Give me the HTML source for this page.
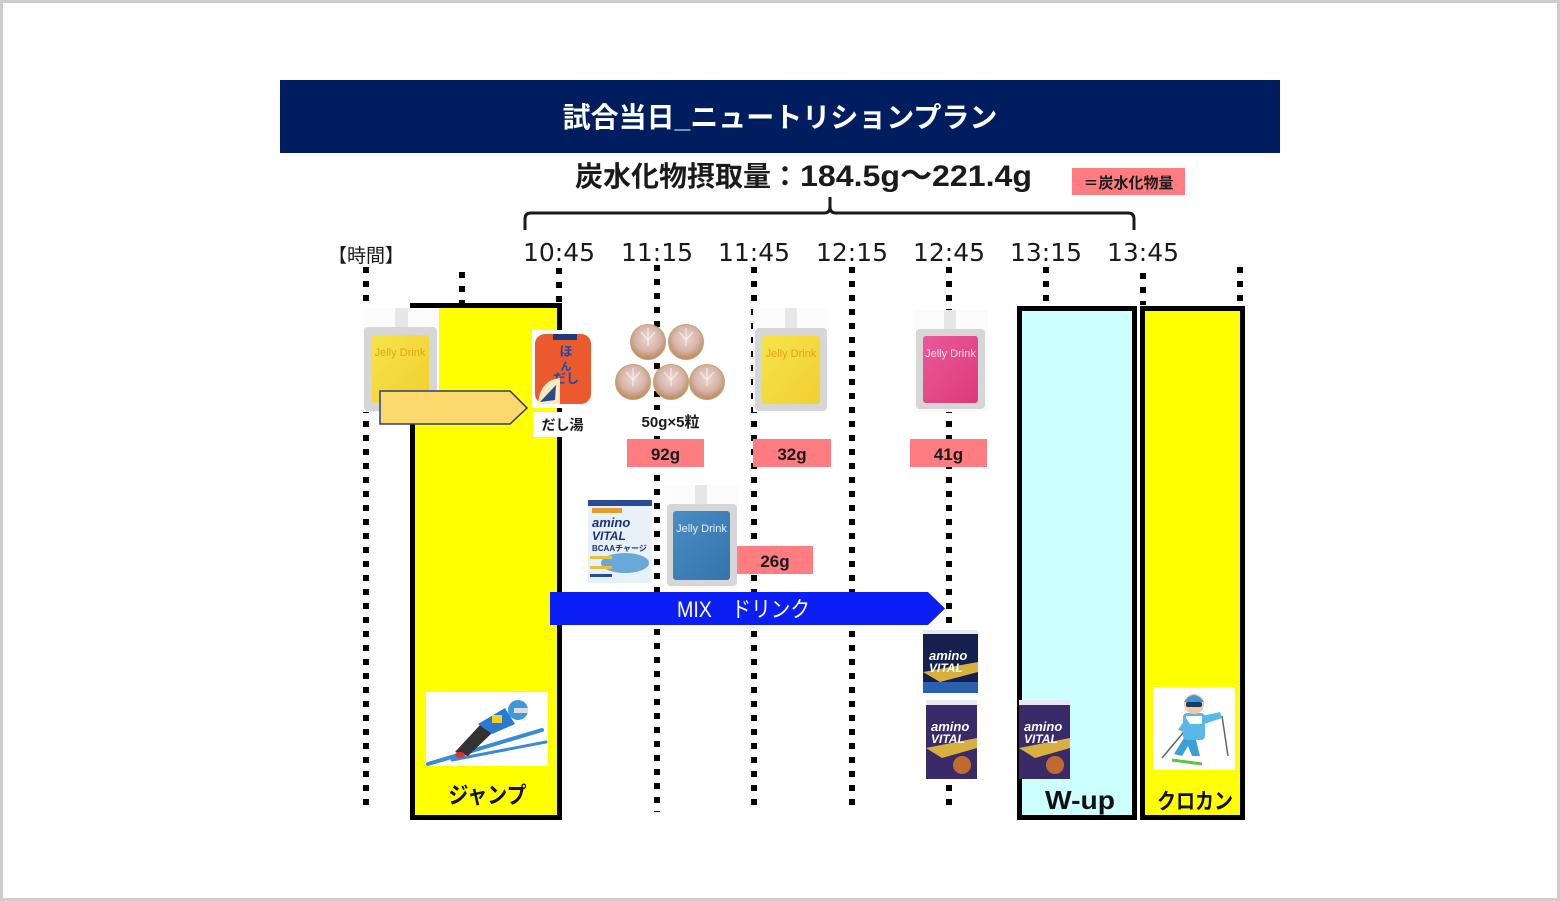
<!DOCTYPE html>
<html><head><meta charset="utf-8">
<style>
html,body{margin:0;padding:0;background:#fff;}
body{width:1560px;height:901px;overflow:hidden;}
svg{display:block;}
text{font-family:"Liberation Sans","Noto Sans CJK JP",sans-serif;}
text.tm{font-family:"DejaVu Sans",sans-serif;}
</style></head>
<body>
<svg width="1560" height="901" viewBox="0 0 1560 901" xmlns="http://www.w3.org/2000/svg">
<defs>
  <radialGradient id="dump" cx="50%" cy="40%" r="60%">
    <stop offset="0" stop-color="#ecd8d2"/>
    <stop offset="0.6" stop-color="#d6b4a8"/>
    <stop offset="1" stop-color="#bb8658"/>
  </radialGradient>
  <linearGradient id="yel" x1="0" y1="0" x2="1" y2="1">
    <stop offset="0" stop-color="#f7e34a"/><stop offset="1" stop-color="#f0d030"/>
  </linearGradient>
  <linearGradient id="pnk" x1="0" y1="0" x2="1" y2="1">
    <stop offset="0" stop-color="#ea5a98"/><stop offset="1" stop-color="#dc3a7a"/>
  </linearGradient>
  <linearGradient id="blu" x1="0" y1="0" x2="1" y2="1">
    <stop offset="0" stop-color="#4a8cc4"/><stop offset="1" stop-color="#3474ad"/>
  </linearGradient>
</defs>

<!-- page border -->
<rect x="1.5" y="1.5" width="1557" height="898" fill="#fff" stroke="#cccccc" stroke-width="3"/>

<!-- header -->
<rect x="280" y="80" width="1000" height="73" fill="#001e5f"/>
<text x="780" y="127" text-anchor="middle" font-size="28" font-weight="bold" fill="#fff">試合当日_ニュートリションプラン</text>

<!-- subtitle -->
<text x="575" y="186" font-size="28" font-weight="bold" fill="#1a1a1a">炭水化物摂取量：</text>
<text x="800" y="186" font-size="30" font-weight="bold" fill="#1a1a1a" textLength="232" lengthAdjust="spacingAndGlyphs">184.5g～221.4g</text>

<rect x="1072" y="168" width="113" height="27" fill="#ff7c80"/>
<text x="1128.5" y="188" text-anchor="middle" font-size="15" font-weight="bold" fill="#1a1a1a">＝炭水化物量</text>

<!-- brace -->
<path d="M525,230 L525,219 Q525,213 531,213 L824,213 Q830,213 830,207 L830,197 M830,207 Q830,213 836,213 L1128,213 Q1134,213 1134,219 L1134,230" fill="none" stroke="#1a1a1a" stroke-width="3"/>

<!-- time labels -->
<text x="366" y="262" text-anchor="middle" font-size="19" fill="#1a1a1a">【時間】</text>
<g font-size="25" fill="#1a1a1a" text-anchor="middle">
  <text class="tm" x="559" y="261">10:45</text>
  <text class="tm" x="657" y="261">11:15</text>
  <text class="tm" x="754" y="261">11:45</text>
  <text class="tm" x="852" y="261">12:15</text>
  <text class="tm" x="949" y="261">12:45</text>
  <text class="tm" x="1046" y="261">13:15</text>
  <text class="tm" x="1143" y="261">13:45</text>
</g>

<!-- dotted lines -->
<g stroke="#000" stroke-width="6" stroke-dasharray="6 8">
  <line x1="366" y1="267" x2="366" y2="812"/>
  <line x1="462" y1="272" x2="462" y2="303"/>
  <line x1="559" y1="268" x2="559" y2="303"/>
  <line x1="657" y1="265" x2="657" y2="812"/>
  <line x1="754" y1="267" x2="754" y2="812"/>
  <line x1="852" y1="267" x2="852" y2="812"/>
  <line x1="949" y1="267" x2="949" y2="812"/>
  <line x1="1046" y1="267" x2="1046" y2="301"/>
  <line x1="1143" y1="273" x2="1143" y2="305"/>
  <line x1="1240" y1="267" x2="1240" y2="301"/>
</g>

<!-- activity boxes -->
<rect x="412.5" y="305.5" width="147" height="512" fill="#ffff00" stroke="#000" stroke-width="5"/>
<rect x="1019.5" y="308.5" width="115" height="509" fill="#ccffff" stroke="#000" stroke-width="5"/>
<rect x="1142.5" y="308.5" width="100" height="509" fill="#ffff00" stroke="#000" stroke-width="5"/>

<!-- yellow jelly 1 -->
<rect x="363" y="308" width="76" height="104" fill="#fbfbfb"/>
<rect x="395" y="308" width="13" height="22" rx="2" fill="#e6e6e6"/>
<rect x="364" y="327" width="73" height="84" rx="4" fill="#d6d6d6"/>
<rect x="372" y="335" width="57" height="68" rx="3" fill="url(#yel)"/>
<text x="400" y="356" text-anchor="middle" font-size="11" fill="#e4a21e">Jelly Drink</text>

<!-- orange arrow -->
<polygon points="380,391 510,391 527,408 510,424 380,424" fill="#fdd86c" stroke="#2a3f7a" stroke-width="1.5"/>

<!-- hondashi -->
<rect x="532" y="330" width="62" height="78" fill="#fff"/>
<rect x="535" y="334" width="56" height="70" rx="10" fill="#ea5a2c"/>
<rect x="553" y="334" width="24" height="6" fill="#1e3a7a"/>
<text x="566" y="356" text-anchor="middle" font-size="13" font-weight="bold" fill="#1e4aa8">ほ</text>
<text x="566" y="370" text-anchor="middle" font-size="11" font-weight="bold" fill="#1e4aa8">ん</text>
<text x="566" y="383" text-anchor="middle" font-size="13" font-weight="bold" fill="#1e4aa8">だし</text>
<path d="M538,404 Q540,380 560,378 L560,404 Z" fill="#f5eac0"/>
<path d="M540,402 L556,385 L555,400 Z" fill="#2a4a8a"/>
<rect x="533" y="412" width="59" height="25" fill="#fff"/>
<text x="562.5" y="430" text-anchor="middle" font-size="14" font-weight="bold" fill="#1a1a1a">だし湯</text>

<!-- dumplings -->
<g stroke="#c8a070" stroke-width="1">
  <circle cx="648" cy="342" r="17.5" fill="url(#dump)"/>
  <circle cx="686" cy="342" r="17.5" fill="url(#dump)"/>
  <circle cx="633" cy="382" r="17.5" fill="url(#dump)"/>
  <circle cx="671" cy="382" r="17.5" fill="url(#dump)"/>
  <circle cx="707" cy="382" r="17.5" fill="url(#dump)"/>
</g>
<g stroke="#f4ecea" stroke-width="1.2" fill="none">
  <path d="M648,328 L648,346 M641,332 L648,340 L655,332"/>
  <path d="M686,328 L686,346 M679,332 L686,340 L693,332"/>
  <path d="M633,368 L633,386 M626,372 L633,380 L640,372"/>
  <path d="M671,368 L671,386 M664,372 L671,380 L678,372"/>
  <path d="M707,368 L707,386 M700,372 L707,380 L714,372"/>
</g>
<rect x="633" y="410" width="76" height="26" fill="#fff"/>
<text x="670.5" y="427" text-anchor="middle" font-size="15" font-weight="bold" fill="#1a1a1a">50g×5粒</text>

<!-- yellow jelly 2 -->
<rect x="753" y="308" width="76" height="104" fill="#fbfbfb"/>
<rect x="785" y="308" width="12" height="22" rx="2" fill="#e6e6e6"/>
<rect x="755" y="328" width="72" height="83" rx="4" fill="#d6d6d6"/>
<rect x="762" y="336" width="58" height="68" rx="3" fill="url(#yel)"/>
<text x="791" y="357" text-anchor="middle" font-size="11" fill="#e4a21e">Jelly Drink</text>

<!-- pink jelly -->
<rect x="914" y="310" width="74" height="102" fill="#fbfbfb"/>
<rect x="944" y="310" width="12" height="20" rx="2" fill="#e6e6e6"/>
<rect x="916" y="329" width="69" height="80" rx="4" fill="#d6d6d6"/>
<rect x="923" y="336" width="55" height="67" rx="3" fill="url(#pnk)"/>
<text x="950.5" y="357" text-anchor="middle" font-size="11" fill="#fbe0ec">Jelly Drink</text>

<!-- carb labels -->
<rect x="627" y="439" width="77" height="28" fill="#ff7c80"/>
<text x="665.5" y="460" text-anchor="middle" font-size="17" font-weight="bold" fill="#1a1a1a">92g</text>
<rect x="753" y="439" width="78" height="28" fill="#ff7c80"/>
<text x="792" y="460" text-anchor="middle" font-size="17" font-weight="bold" fill="#1a1a1a">32g</text>
<rect x="910" y="439" width="77" height="28" fill="#ff7c80"/>
<text x="948.5" y="460" text-anchor="middle" font-size="17" font-weight="bold" fill="#1a1a1a">41g</text>

<!-- BCAA box -->
<rect x="588" y="500" width="64" height="83" fill="#e8f0f8"/>
<rect x="588" y="500" width="64" height="6" fill="#2a4a9a"/>
<rect x="592" y="508" width="30" height="5" fill="#e0a030"/>
<text x="592" y="527" font-size="13" font-weight="bold" font-style="italic" fill="#1a2f80">amino</text>
<text x="592" y="540" font-size="12" font-weight="bold" font-style="italic" fill="#1a2f80">VITAL</text>
<text x="592" y="551" font-size="8" font-weight="bold" fill="#1a2f80">BCAAチャージ</text>
<ellipse cx="625" cy="563" rx="24" ry="10" fill="#6aa8d8"/>
<rect x="590" y="556" width="22" height="3" fill="#e8c040"/>
<rect x="590" y="566" width="22" height="3" fill="#e8c040"/>
<rect x="590" y="574" width="22" height="3" fill="#2a4a9a"/>

<!-- blue jelly -->
<rect x="665" y="485" width="74" height="103" fill="#fbfbfb"/>
<rect x="695" y="485" width="12" height="20" rx="2" fill="#e6e6e6"/>
<rect x="667" y="504" width="70" height="82" rx="4" fill="#d6d6d6"/>
<rect x="673" y="511" width="57" height="69" rx="3" fill="url(#blu)"/>
<text x="701.5" y="532" text-anchor="middle" font-size="11" fill="#e6f0fa">Jelly Drink</text>

<rect x="737" y="546" width="76" height="28" fill="#ff7c80"/>
<text x="775" y="567" text-anchor="middle" font-size="17" font-weight="bold" fill="#1a1a1a">26g</text>

<!-- MIX arrow -->
<polygon points="550,592 928,592 945,608.5 928,625 550,625" fill="#0a1ef5"/>
<text x="677" y="617" font-size="22" fill="#fff" textLength="133" lengthAdjust="spacingAndGlyphs">MIX　ドリンク</text>

<!-- amino vital boxes -->
<g>
  <rect x="923" y="630" width="55" height="63" fill="#16204e"/>
  <rect x="923" y="630" width="55" height="4" fill="#e8e8f0"/>
  <path d="M923,672 L978,662 L978,672 L940,682 Z" fill="#d8b040"/>
  <rect x="923" y="682" width="55" height="11" fill="#2a60b0"/>
  <text x="929" y="660" font-size="13" font-weight="bold" font-style="italic" fill="#fff">amino</text>
  <text x="929" y="672" font-size="12" font-weight="bold" font-style="italic" fill="#fff">VITAL</text>
</g>
<g>
  <rect x="926" y="700" width="51" height="79" fill="#3b2a6a"/>
  <rect x="926" y="700" width="51" height="5" fill="#e8e8f0"/>
  <path d="M926,748 L977,738 L977,748 L942,758 Z" fill="#d8b040"/>
  <circle cx="962" cy="765" r="9" fill="#c06a30"/>
  <text x="931" y="731" font-size="13" font-weight="bold" font-style="italic" fill="#fff">amino</text>
  <text x="931" y="743" font-size="12" font-weight="bold" font-style="italic" fill="#fff">VITAL</text>
</g>
<g>
  <rect x="1019" y="700" width="51" height="79" fill="#3b2a6a"/>
  <rect x="1019" y="700" width="51" height="5" fill="#e8e8f0"/>
  <path d="M1019,748 L1070,738 L1070,748 L1035,758 Z" fill="#d8b040"/>
  <circle cx="1055" cy="765" r="9" fill="#c06a30"/>
  <text x="1024" y="731" font-size="13" font-weight="bold" font-style="italic" fill="#fff">amino</text>
  <text x="1024" y="743" font-size="12" font-weight="bold" font-style="italic" fill="#fff">VITAL</text>
</g>

<!-- ski jumper -->
<rect x="426" y="692" width="122" height="74" fill="#fff"/>
<line x1="428" y1="764" x2="542" y2="730" stroke="#3a8ad8" stroke-width="4" stroke-linecap="round"/>
<line x1="452" y1="760" x2="546" y2="742" stroke="#3a8ad8" stroke-width="3" stroke-linecap="round"/>
<path d="M455,752 L480,725 L492,733 L468,756 Z" fill="#333"/>
<path d="M478,724 L505,708 L515,724 L492,734 Z" fill="#2a7ad0"/>
<rect x="492" y="715" width="10" height="8" fill="#f0d020"/>
<circle cx="518" cy="710" r="10" fill="#3a9ad8"/>
<rect x="514" y="708" width="14" height="5" fill="#ddd"/>
<ellipse cx="460" cy="755" rx="5" ry="3" fill="#e03030"/>

<!-- xc skier -->
<rect x="1153" y="687" width="82" height="83" fill="#fff"/>
<line x1="1162" y1="758" x2="1188" y2="727" stroke="#666" stroke-width="1.5"/>
<line x1="1222" y1="716" x2="1228" y2="756" stroke="#666" stroke-width="1.5"/>
<path d="M1174,754 L1184,738 L1196,740 L1200,756 L1192,756 L1188,746 L1182,756 Z" fill="#3aa0d8"/>
<rect x="1183" y="713" width="22" height="27" rx="4" fill="#5ab8e8"/>
<rect x="1186" y="716" width="16" height="8" fill="#fff"/>
<path d="M1202,716 L1220,712 L1222,718 L1204,724 Z" fill="#5ab8e8"/>
<path d="M1186,718 L1178,730 L1184,732 L1190,724 Z" fill="#5ab8e8"/>
<circle cx="1194" cy="704" r="10" fill="#f2c8a0"/>
<path d="M1184,702 Q1194,688 1204,702 Z" fill="#3a9ad8"/>
<rect x="1186" y="702" width="16" height="5" rx="2" fill="#1a3a6a"/>
<line x1="1172" y1="760" x2="1202" y2="764" stroke="#60c040" stroke-width="3"/>

<!-- activity labels -->
<text x="487.5" y="803" text-anchor="middle" font-size="23" font-weight="bold" fill="#111" textLength="78" lengthAdjust="spacingAndGlyphs">ジャンプ</text>
<text x="1080" y="809" text-anchor="middle" font-size="26" font-weight="bold" fill="#111" textLength="70" lengthAdjust="spacingAndGlyphs">W-up</text>
<text x="1195" y="809" text-anchor="middle" font-size="22" font-weight="bold" fill="#111" textLength="76" lengthAdjust="spacingAndGlyphs">クロカン</text>
</svg>
</body></html>
